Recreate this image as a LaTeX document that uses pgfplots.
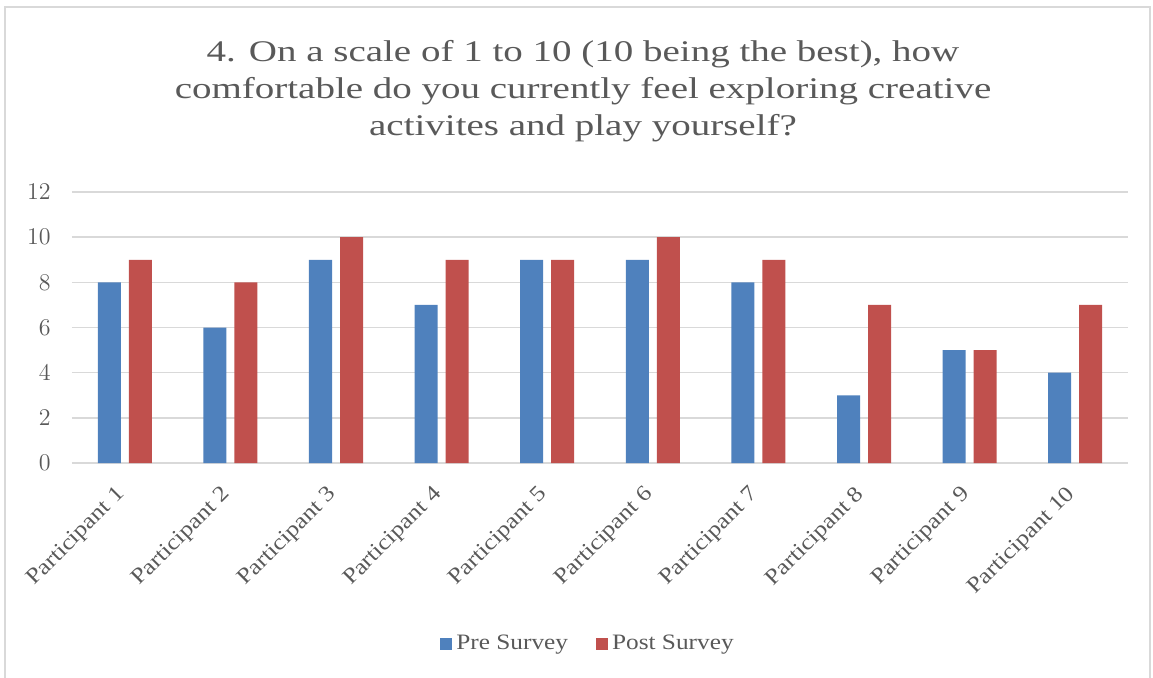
\documentclass[border=0pt]{standalone}
\usepackage{pgfplots}
\pgfplotsset{compat=1.18}
\usepackage{fontspec}
\setmainfont{Liberation Serif}[FakeStretch=1.15]
\newfontfamily\titlefont{Liberation Serif}[FakeStretch=1.3]
\definecolor{preblue}{HTML}{4F81BD}
\definecolor{postred}{HTML}{C0504D}
\definecolor{txt}{HTML}{595959}
\definecolor{gridc}{HTML}{D9D9D9}
\begin{document}
\begin{tikzpicture}
\useasboundingbox (0,0) rectangle (576.5pt,338.5pt);
\draw[gridc, line width=1pt] (2.5pt,-5pt) rectangle (575pt,335pt);
\node[txt, font=\titlefont\fontsize{15pt}{18pt}\selectfont, anchor=base] at (291.5pt,308pt) {4. On a scale of 1 to 10 (10 being the best), how};
\node[txt, font=\titlefont\fontsize{15pt}{18pt}\selectfont, anchor=base] at (291.5pt,289.5pt) {comfortable do you currently feel exploring creative};
\node[txt, font=\titlefont\fontsize{15pt}{18pt}\selectfont, anchor=base] at (291.5pt,271pt) {activites and play yourself?};
\begin{axis}[
  at={(36pt,107pt)}, anchor=south west,
  width=528pt, height=135.5pt, scale only axis,
  ybar, bar width=11.5pt,
  xmin=-0.5, xmax=9.5, ymin=0, ymax=12,
  ytick={0,2,...,12},
  xtick={0,...,9},
  xticklabels={Participant 1,Participant 2,Participant 3,Participant 4,Participant 5,Participant 6,Participant 7,Participant 8,Participant 9,Participant 10},
  axis y line*=left,
  y axis line style={draw=none},
  axis x line*=bottom,
  x axis line style={gridc, line width=1pt, -},
  major tick length=0pt,
  ymajorgrids, grid style={gridc, line width=0.75pt},
  tick label style={txt, font=\fontsize{11pt}{13pt}\selectfont},
  yticklabel style={anchor=east, inner sep=0pt, xshift=-10.5pt, font=\fontsize{12pt}{14pt}\selectfont},
  xticklabel style={rotate=45, anchor=east, inner sep=0pt, xshift=-11pt, yshift=-9pt},
  legend style={at={(0.5,-0.657)}, anchor=center, draw=none, fill=none, legend columns=2,
    xshift=-5.5pt, yshift=-1.5pt,
    font=\fontsize{11pt}{13pt}\selectfont, text=txt,
    /tikz/every even column/.append style={column sep=12pt}},
  legend image code/.code={\fill (0pt,-3pt) rectangle (6pt,3pt);},
]
\addplot[fill=preblue, draw=none, bar shift=-7.75pt] coordinates {(0,8) (1,6) (2,9) (3,7) (4,9) (5,9) (6,8) (7,3) (8,5) (9,4)};
\addplot[fill=postred, draw=none, bar shift=7.75pt] coordinates {(0,9) (1,8) (2,10) (3,9) (4,9) (5,10) (6,9) (7,7) (8,5) (9,7)};
\legend{Pre Survey, Post Survey}
\end{axis}
\end{tikzpicture}
\end{document}
